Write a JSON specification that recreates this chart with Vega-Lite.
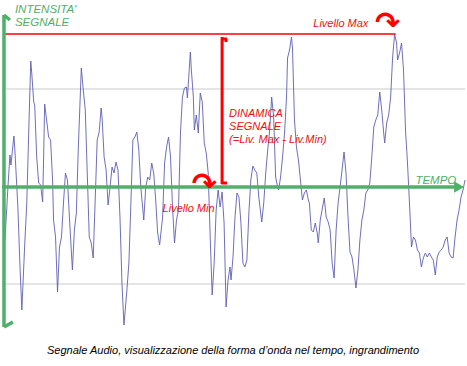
{
  "$schema": "https://vega.github.io/schema/vega-lite/v6.json",
  "width": 467,
  "height": 366,
  "autosize": {"type": "fit", "contains": "padding"},
  "padding": 0,
  "background": "white",
  "config": {"view": {"stroke": null}},
  "datasets": {
    "wave": [
      {"x":3,"y":-53},{"x":6,"y":0},{"x":8,"y":32},{"x":9,"y":22},{"x":12,"y":51},{"x":13,"y":37},{"x":16,"y":-20},{"x":18,"y":-76},{"x":20,"y":-123},{"x":23,"y":-56},{"x":25,"y":-16},{"x":27,"y":57},{"x":29,"y":126},{"x":30,"y":114},{"x":32,"y":85},{"x":33,"y":82},{"x":35,"y":30},{"x":37,"y":4},{"x":39,"y":2},{"x":41,"y":-15},{"x":42,"y":30},{"x":43,"y":83},{"x":45,"y":67},{"x":47,"y":50},{"x":49,"y":47},{"x":51,"y":7},{"x":52,"y":-33},{"x":54,"y":-50},{"x":56,"y":-105},{"x":58,"y":-60},{"x":60,"y":-50},{"x":62,"y":-16},{"x":64,"y":14},{"x":66,"y":7},{"x":68,"y":-30},{"x":71,"y":-83},{"x":73,"y":-43},{"x":75,"y":-26},{"x":77,"y":40},{"x":80,"y":119},{"x":82,"y":97},{"x":84,"y":77},{"x":86,"y":14},{"x":88,"y":-50},{"x":90,"y":-56},{"x":92,"y":-71},{"x":94,"y":-13},{"x":96,"y":47},{"x":98,"y":55},{"x":100,"y":79},{"x":101,"y":69},{"x":103,"y":30},{"x":105,"y":17},{"x":107,"y":-18},{"x":109,"y":0},{"x":111,"y":20},{"x":113,"y":14},{"x":115,"y":25},{"x":117,"y":17},{"x":119,"y":-30},{"x":121,"y":-96},{"x":123,"y":-138},{"x":126,"y":-103},{"x":128,"y":-76},{"x":130,"y":-16},{"x":132,"y":47},{"x":134,"y":50},{"x":136,"y":55},{"x":138,"y":37},{"x":140,"y":0},{"x":143,"y":-33},{"x":145,"y":0},{"x":147,"y":10},{"x":149,"y":7},{"x":151,"y":24},{"x":153,"y":14},{"x":155,"y":-13},{"x":157,"y":-46},{"x":159,"y":-58},{"x":162,"y":-30},{"x":164,"y":24},{"x":166,"y":40},{"x":168,"y":50},{"x":170,"y":30},{"x":172,"y":-20},{"x":174,"y":-56},{"x":176,"y":-33},{"x":178,"y":-23},{"x":180,"y":54},{"x":182,"y":90},{"x":184,"y":99},{"x":186,"y":100},{"x":187,"y":89},{"x":190,"y":135},{"x":191,"y":117},{"x":193,"y":90},{"x":194,"y":57},{"x":196,"y":72},{"x":198,"y":54},{"x":200,"y":94},{"x":202,"y":85},{"x":204,"y":44},{"x":206,"y":34},{"x":208,"y":14},{"x":210,"y":-50},{"x":212,"y":-108},{"x":214,"y":-76},{"x":216,"y":-23},{"x":218,"y":-3},{"x":220,"y":-20},{"x":222,"y":-5},{"x":224,"y":-36},{"x":226,"y":-120},{"x":228,"y":-93},{"x":230,"y":-80},{"x":231,"y":-93},{"x":233,"y":-70},{"x":235,"y":-30},{"x":237,"y":-6},{"x":239,"y":-10},{"x":241,"y":-36},{"x":243,"y":-76},{"x":245,"y":-80},{"x":247,"y":-73},{"x":249,"y":-26},{"x":251,"y":7},{"x":253,"y":21},{"x":255,"y":17},{"x":257,"y":14},{"x":259,"y":-10},{"x":262,"y":-35},{"x":264,"y":-16},{"x":266,"y":14},{"x":268,"y":37},{"x":270,"y":57},{"x":272,"y":90},{"x":274,"y":70},{"x":276,"y":10},{"x":278,"y":0},{"x":279,"y":-3},{"x":281,"y":10},{"x":283,"y":30},{"x":285,"y":54},{"x":287,"y":90},{"x":288,"y":129},{"x":290,"y":137},{"x":292,"y":150},{"x":293,"y":139},{"x":295,"y":67},{"x":297,"y":40},{"x":299,"y":27},{"x":301,"y":7},{"x":303,"y":-13},{"x":305,"y":-6},{"x":307,"y":-3},{"x":309,"y":-13},{"x":310,"y":-16},{"x":312,"y":-43},{"x":314,"y":-45},{"x":316,"y":-36},{"x":318,"y":-46},{"x":319,"y":-56},{"x":321,"y":-33},{"x":325,"y":-11},{"x":327,"y":-30},{"x":329,"y":-35},{"x":331,"y":-43},{"x":333,"y":-76},{"x":335,"y":-91},{"x":337,"y":-43},{"x":339,"y":-16},{"x":341,"y":0},{"x":343,"y":17},{"x":345,"y":35},{"x":347,"y":14},{"x":349,"y":-30},{"x":351,"y":-65},{"x":353,"y":-70},{"x":355,"y":-83},{"x":357,"y":-101},{"x":359,"y":-83},{"x":361,"y":-53},{"x":363,"y":-33},{"x":365,"y":-23},{"x":367,"y":-6},{"x":369,"y":-3},{"x":371,"y":4},{"x":373,"y":30},{"x":375,"y":60},{"x":377,"y":67},{"x":379,"y":72},{"x":381,"y":95},{"x":383,"y":77},{"x":385,"y":54},{"x":386,"y":44},{"x":388,"y":64},{"x":390,"y":72},{"x":392,"y":90},{"x":394,"y":130},{"x":396,"y":153},{"x":398,"y":144},{"x":399,"y":127},{"x":401,"y":134},{"x":403,"y":144},{"x":405,"y":117},{"x":407,"y":57},{"x":409,"y":24},{"x":411,"y":-16},{"x":413,"y":-60},{"x":415,"y":-50},{"x":417,"y":-53},{"x":419,"y":-63},{"x":421,"y":-66},{"x":423,"y":-80},{"x":425,"y":-71},{"x":427,"y":-66},{"x":429,"y":-70},{"x":431,"y":-66},{"x":433,"y":-70},{"x":435,"y":-73},{"x":437,"y":-88},{"x":439,"y":-70},{"x":441,"y":-65},{"x":443,"y":-63},{"x":445,"y":-60},{"x":447,"y":-53},{"x":449,"y":-50},{"x":451,"y":-66},{"x":453,"y":-70},{"x":455,"y":-71},{"x":457,"y":-50},{"x":459,"y":-33},{"x":461,"y":-23},{"x":463,"y":-10},{"x":465,"y":-3},{"x":467,"y":7}
    ]
  },
  "encoding": {
    "x": {"field": "x", "type": "quantitative", "scale": {"domain": [0, 467], "nice": false, "zero": false}, "axis": null},
    "y": {"field": "y", "type": "quantitative", "scale": {"domain": [-179, 187], "nice": false, "zero": false}, "axis": null}
  },
  "layer": [
    {
      "data": {"values": [{"x": 0, "x2": 467, "y": 98}, {"x": 0, "x2": 467, "y": -97}]},
      "mark": {"type": "rule", "color": "#dcdcdc", "strokeWidth": 1.5},
      "encoding": {"x2": {"field": "x2"}}
    },
    {
      "data": {"name": "wave"},
      "mark": {"type": "line", "color": "#5f5fb2", "strokeWidth": 1, "opacity": 0.9},
      "encoding": {"order": {"field": "x", "type": "quantitative"}}
    },
    {
      "data": {"values": [{"x": 3, "x2": 397, "y": 153}]},
      "mark": {"type": "rule", "color": "#ff0000", "strokeWidth": 1.5},
      "encoding": {"x2": {"field": "x2"}}
    },
    {
      "data": {"values": [
        {"x": 222, "x2": 222, "y": 150, "y2": 3},
        {"x": 221, "x2": 227, "y": 148, "y2": 148},
        {"x": 226, "x2": 226, "y": 148, "y2": 145},
        {"x": 221, "x2": 227, "y": 4, "y2": 4}
      ]},
      "mark": {"type": "rule", "color": "#ff0000", "strokeWidth": 3},
      "encoding": {"x2": {"field": "x2"}, "y2": {"field": "y2"}}
    },
    {
      "data": {"values": [
        {"x": 2, "x2": 2, "y": 172, "y2": -140},
        {"x": 0, "x2": 458, "y": 0, "y2": 0},
        {"x": 2, "x2": 11, "y": -140, "y2": -135},
        {"x": 2, "x2": 8, "y": 172, "y2": 167}
      ]},
      "mark": {"type": "rule", "color": "#4fb06a", "strokeWidth": 3.5},
      "encoding": {"x2": {"field": "x2"}, "y2": {"field": "y2"}}
    },
    {
      "data": {"values": [{"x": 461, "y": 0}]},
      "mark": {"type": "point", "shape": "triangle-right", "filled": true, "color": "#4fb06a", "size": 130, "opacity": 1}
    },
    {
      "data": {"values": [
        {"x": 13, "y": 174, "t": "INTENSITA'"},
        {"x": 13, "y": 161, "t": "SEGNALE"},
        {"x": 417, "y": 3, "t": "TEMPO"}
      ]},
      "mark": {"type": "text", "align": "left", "baseline": "alphabetic", "font": "Liberation Sans", "fontStyle": "italic", "fontSize": 11.5, "color": "#4fb06a"},
      "encoding": {"text": {"field": "t"}}
    },
    {
      "data": {"values": [
        {"x": 314, "y": 160, "t": "Livello Max"},
        {"x": 229, "y": 70, "t": "DINAMICA"},
        {"x": 229, "y": 57, "t": "SEGNALE"},
        {"x": 229, "y": 44, "t": "(=Liv. Max - Liv.Min)"},
        {"x": 162, "y": -25, "t": "Livello Min"}
      ]},
      "mark": {"type": "text", "align": "left", "baseline": "alphabetic", "font": "Liberation Sans", "fontStyle": "italic", "fontSize": 11, "color": "#f01010"},
      "encoding": {"text": {"field": "t"}}
    },
    {
      "data": {"values": [
        {"x": 389, "y": 163, "t": "↷"},
        {"x": 204, "y": 2, "t": "↷"}
      ]},
      "mark": {"type": "text", "align": "center", "baseline": "middle", "font": "DejaVu Sans", "fontWeight": "bold", "fontSize": 30, "color": "#ff0000"},
      "encoding": {"text": {"field": "t"}}
    },
    {
      "data": {"values": [{"x": 233, "y": -167, "t": "Segnale Audio, visualizzazione della forma d’onda nel tempo, ingrandimento"}]},
      "mark": {"type": "text", "align": "center", "baseline": "alphabetic", "font": "Liberation Sans", "fontStyle": "italic", "fontSize": 11, "color": "#000000"},
      "encoding": {"text": {"field": "t"}}
    }
  ]
}
